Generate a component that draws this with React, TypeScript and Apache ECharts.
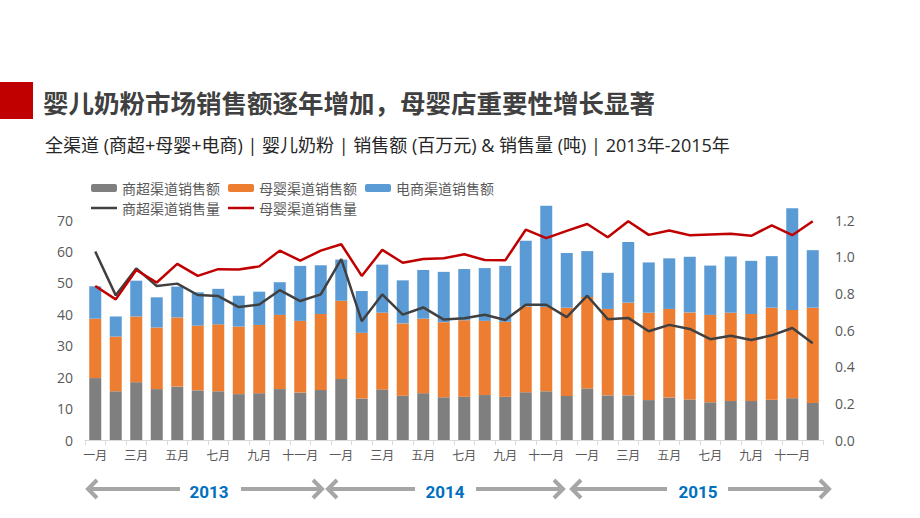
import React, { useEffect, useRef } from "react";
import * as echarts from "echarts";

const monthNames = ["一月", "二月", "三月", "四月", "五月", "六月", "七月", "八月", "九月", "十月", "十一月", "十二月"];
const categories: string[] = [...monthNames, ...monthNames, ...monthNames];

// 销售额 (百万元), stacked segments
const supermarketSales = [
  19.7, 15.5, 18.4, 16.2, 17.0, 15.8, 15.5, 14.6, 14.9, 16.2, 15.1, 15.9,
  19.4, 13.2, 16.1, 14.1, 14.9, 13.6, 13.8, 14.3, 13.8, 15.2, 15.5, 14.0,
  16.4, 14.2, 14.2, 12.7, 13.5, 12.9, 12.0, 12.4, 12.4, 12.8, 13.3, 11.8,
];
const maternalSales = [
  18.9, 17.4, 20.9, 19.6, 22.0, 20.6, 21.3, 21.5, 21.7, 23.6, 22.8, 24.2,
  24.9, 20.9, 24.4, 23.0, 23.7, 23.9, 24.3, 23.6, 23.8, 27.3, 26.8, 28.1,
  29.1, 27.5, 29.5, 27.8, 28.2, 27.7, 27.8, 28.1, 27.7, 29.3, 28.1, 30.3,
];
const ecommerceSales = [
  10.3, 6.4, 11.4, 9.6, 9.8, 10.6, 11.3, 9.8, 10.6, 10.4, 17.5, 15.5,
  13.1, 13.3, 15.3, 13.7, 15.5, 16.0, 16.3, 16.8, 17.8, 20.9, 32.2, 17.4,
  14.6, 11.5, 19.3, 16.0, 16.1, 17.7, 15.7, 17.9, 16.9, 16.4, 32.3, 18.3,
];
// 销售量 (吨)
const supermarketVolume = [
  1.028, 0.789, 0.936, 0.84, 0.853, 0.791, 0.785, 0.725, 0.739, 0.817, 0.758, 0.794,
  0.987, 0.648, 0.794, 0.684, 0.723, 0.657, 0.664, 0.683, 0.655, 0.738, 0.738, 0.67,
  0.787, 0.659, 0.666, 0.593, 0.628, 0.606, 0.55, 0.569, 0.545, 0.571, 0.611, 0.528,
];
const maternalVolume = [
  0.84, 0.767, 0.927, 0.859, 0.961, 0.895, 0.932, 0.93, 0.947, 1.033, 0.978, 1.033,
  1.068, 0.895, 1.037, 0.967, 0.987, 0.991, 1.013, 0.982, 0.98, 1.147, 1.101, 1.141,
  1.178, 1.106, 1.193, 1.119, 1.143, 1.117, 1.121, 1.125, 1.114, 1.171, 1.117, 1.193,
];
const years = ["2013", "2014", "2015"];

const FONT = "'Noto Sans CJK SC', 'Noto Sans', sans-serif";
const LATIN_CJK = "'Open Sans', 'Noto Sans CJK SC', sans-serif";
const ARROW = "#A6A6A6";

function arrow(x1: number, x2: number, gapL: number, gapR: number, y: number, label: string, cx: number) {
  const s = { stroke: ARROW, lineWidth: 4, lineCap: "butt" as const, lineJoin: "miter" as const, fill: "none" };
  return [
    { type: "line", shape: { x1: x1 + 1, y1: y, x2: gapL, y2: y }, style: s },
    { type: "line", shape: { x1: gapR, y1: y, x2: x2 - 1, y2: y }, style: s },
    { type: "polyline", shape: { points: [[x1 + 10, y - 9], [x1 + 1, y], [x1 + 10, y + 9]] }, style: s },
    { type: "polyline", shape: { points: [[x2 - 10, y - 9], [x2 - 1, y], [x2 - 10, y + 9]] }, style: s },
    {
      type: "text",
      x: cx,
      y: y + 3,
      style: { text: label, fill: "#0070C0", font: "bold 17px Roboto, 'Liberation Sans', sans-serif", align: "center", verticalAlign: "middle" },
    },
  ];
}

export default function App() {
  const ref = useRef<HTMLDivElement>(null);
  useEffect(() => {
    document.body.style.margin = "0";
    const chart = echarts.init(ref.current!, null, { renderer: "svg" });
    const barSeries = [
      { name: "商超渠道销售额", data: supermarketSales, color: "#7F7F7F" },
      { name: "母婴渠道销售额", data: maternalSales, color: "#ED7D31" },
      { name: "电商渠道销售额", data: ecommerceSales, color: "#5B9BD5" },
    ].map((s) => ({
      name: s.name,
      type: "bar",
      stack: "sales",
      barWidth: 12,
      clip: false,
      data: s.data,
      itemStyle: { color: s.color },
    }));
    chart.setOption({
      animation: false,
      textStyle: { fontFamily: FONT },
      legend: [
        {
          data: ["商超渠道销售额", "母婴渠道销售额", "电商渠道销售额"],
          left: 86,
          top: 176,
          itemWidth: 26,
          itemHeight: 8,
          itemGap: 8,
          textStyle: { fontSize: 14, color: "#595959", fontFamily: FONT },
        },
        {
          data: [
            { name: "商超渠道销售量", icon: "rect" },
            { name: "母婴渠道销售量", icon: "rect" },
          ],
          left: 86,
          top: 196,
          itemWidth: 26,
          itemHeight: 2.5,
          itemGap: 8,
          textStyle: { fontSize: 14, color: "#595959", fontFamily: FONT },
        },
      ],
      grid: { left: 85, right: 97, top: 220, bottom: 78, containLabel: false },
      xAxis: {
        type: "category",
        data: categories,
        axisLine: { lineStyle: { color: "#D9D9D9" } },
        axisTick: { show: true, interval: 0, length: 5, lineStyle: { color: "#D9D9D9" } },
        axisLabel: { interval: 1, fontSize: 12, color: "#595959", margin: 8, fontFamily: FONT },
      },
      yAxis: [
        {
          type: "value",
          min: 0,
          max: 70,
          interval: 10,
          axisLine: { show: false },
          axisTick: { show: false },
          splitLine: { show: false },
          axisLabel: { fontSize: 14, color: "#595959", margin: 12, fontFamily: "'Open Sans', sans-serif" },
        },
        {
          type: "value",
          min: 0,
          max: 1.2,
          interval: 0.2,
          axisLine: { show: false },
          axisTick: { show: false },
          splitLine: { show: false },
          axisLabel: {
            fontSize: 14,
            color: "#595959",
            margin: 12,
            fontFamily: "'Open Sans', sans-serif",
            formatter: (v: number) => v.toFixed(1),
          },
        },
      ],
      series: [
        ...barSeries,
        {
          name: "商超渠道销售量",
          type: "line",
          yAxisIndex: 1,
          data: supermarketVolume,
          symbol: "none",
          color: "#404040",
          lineStyle: { width: 2.5, color: "#404040" },
          z: 5,
        },
        {
          name: "母婴渠道销售量",
          type: "line",
          yAxisIndex: 1,
          data: maternalVolume,
          symbol: "none",
          color: "#C00000",
          lineStyle: { width: 2.5, color: "#C00000" },
          z: 5,
        },
      ],
      graphic: [
        { type: "rect", shape: { x: 0, y: 82, width: 33, height: 37 }, style: { fill: "#C00000" } },
        {
          type: "text",
          x: 43,
          y: 101,
          style: {
            text: "婴儿奶粉市场销售额逐年增加，母婴店重要性增长显著",
            fill: "#404040",
            font: `bold 25.5px ${FONT}`,
            verticalAlign: "middle",
          },
        },
        {
          type: "text",
          x: 45,
          y: 145,
          style: {
            text: "全渠道 (商超+母婴+电商) | 婴儿奶粉 | 销售额 (百万元) & 销售量 (吨) | 2013年-2015年",
            fill: "#262626",
            font: `18px ${LATIN_CJK}`,
            verticalAlign: "middle",
          },
        },
        ...arrow(87, 323, 180, 241, 489, years[0], 209),
        ...arrow(327, 564, 415, 476, 489, years[1], 445),
        ...arrow(571, 830, 667, 728, 489, years[2], 698),
      ],
    });
    return () => chart.dispose();
  }, []);
  return <div ref={ref} style={{ width: 920, height: 518 }} />;
}
